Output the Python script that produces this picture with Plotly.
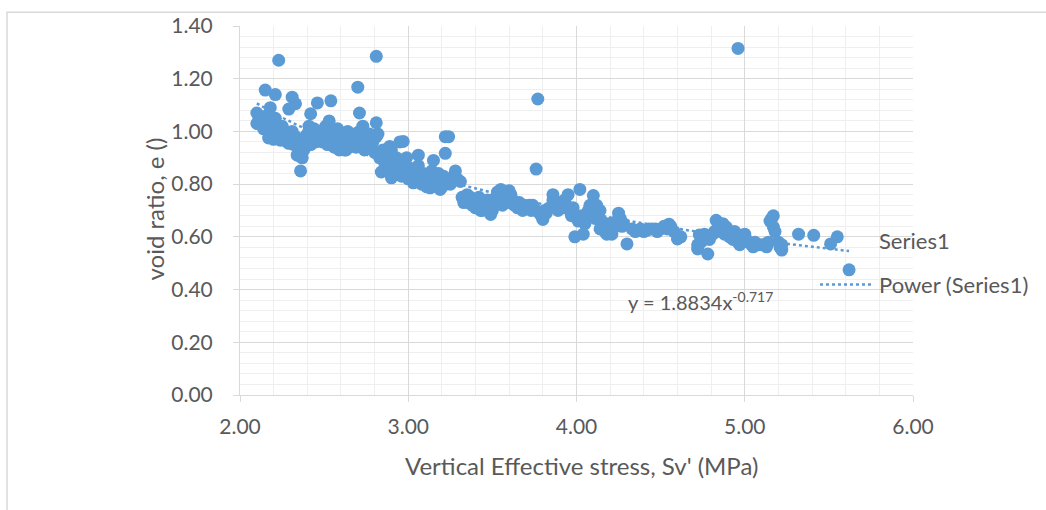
import plotly.graph_objects as go
import numpy as np

# Vertical effective stress (MPa)
sv = [
    2.23, 2.81, 4.96, 3.77, 3.76, 2.70, 2.54, 2.15, 2.21, 2.31, 2.33, 2.29, 2.46, 2.71, 2.81, 2.82,
    2.10, 2.12, 2.18, 2.42, 2.36, 2.36, 2.84, 2.90, 2.89, 2.95, 2.59, 2.63,
    2.10, 2.17, 2.24, 2.29, 2.35, 2.49, 2.84, 2.97, 3.06, 3.15, 3.22, 3.22, 3.03, 3.13, 3.19,
    3.24, 3.28, 3.31, 3.33, 3.43, 3.49, 3.55, 3.60, 3.64, 3.72, 3.80, 3.86, 3.95, 4.02, 4.10,
    3.99, 4.04, 4.14, 4.18, 4.25, 4.30, 4.22,
    4.42, 4.47, 4.55, 4.60, 4.72, 4.78, 4.73, 4.83, 4.89, 4.98, 5.05, 5.13, 5.17, 5.17, 5.22,
    5.32, 5.41, 5.51, 5.55, 5.62, 4.14, 4.17,
    2.11, 2.13, 2.14, 2.15, 2.16, 2.17, 2.18, 2.19, 2.20, 2.20, 2.21, 2.22, 2.23, 2.24, 2.25,
    2.26, 2.27, 2.28, 2.29, 2.30, 2.31, 2.32, 2.33, 2.34, 2.35, 2.36, 2.37, 2.38, 2.39, 2.40,
    2.41, 2.42, 2.43, 2.44, 2.45, 2.46, 2.47, 2.48, 2.49, 2.50, 2.51, 2.52, 2.53, 2.54, 2.55,
    2.56, 2.57, 2.58, 2.59, 2.60, 2.61, 2.62, 2.63, 2.64, 2.65, 2.66, 2.67, 2.68, 2.69, 2.70,
    2.71, 2.72, 2.73, 2.74, 2.75, 2.76, 2.77, 2.78, 2.79, 2.80, 2.81, 2.83, 2.85, 2.86, 2.87,
    2.88, 2.89, 2.90, 2.91, 2.92, 2.93, 2.94, 2.95, 2.96, 2.97, 2.98, 2.99, 3.00, 3.01, 3.02,
    3.03, 3.04, 3.05, 3.06, 3.07, 3.08, 3.09, 3.10, 3.11, 3.12, 3.13, 3.14, 3.15, 3.16, 3.17,
    3.18, 3.19, 3.20, 3.21, 3.22, 3.23, 3.25, 3.27, 3.29,
    3.32, 3.33, 3.34, 3.35, 3.36, 3.37, 3.38, 3.39, 3.40, 3.41, 3.42, 3.43, 3.44, 3.45, 3.46,
    3.47, 3.48, 3.50, 3.51, 3.52, 3.53, 3.54, 3.56, 3.57, 3.58, 3.59, 3.61, 3.62, 3.63, 3.65,
    3.66, 3.68, 3.69, 3.71, 3.73, 3.74, 3.76, 3.78, 3.79, 3.81, 3.82, 3.84, 3.86, 3.87, 3.89,
    3.90, 3.92, 3.93, 3.94, 3.96, 3.97, 3.98, 4.01, 4.03, 4.05, 4.06, 4.07, 4.08, 4.09, 4.11,
    4.12, 4.13, 4.15, 4.16, 4.17, 4.19, 4.20, 4.21, 4.23, 4.24, 4.26, 4.27, 4.28, 4.33, 4.35,
    4.38, 4.40, 4.43, 4.45, 4.48, 4.50, 4.52, 4.54, 4.56, 4.58, 4.62, 4.72, 4.74, 4.75, 4.76,
    4.79, 4.81, 4.82, 4.84, 4.86, 4.87, 4.88, 4.90, 4.91, 4.92, 4.93, 4.94, 4.95, 4.96, 4.97,
    4.99, 5.00, 5.01, 5.02, 5.04, 5.06, 5.08, 5.10, 5.12, 5.14, 5.15, 5.16, 5.18, 5.20, 5.21,
    5.22,
]

# Void ratio e
void_ratio = [
    1.27, 1.285, 1.315, 1.123, 0.857, 1.168, 1.116, 1.157, 1.14, 1.13, 1.105, 1.085, 1.108, 1.07, 1.033, 0.99,
    1.07, 1.03, 1.09, 1.067, 0.905, 0.85, 0.846, 0.824, 0.943, 0.96, 0.93, 0.93,
    1.03, 0.975, 0.967, 0.955, 0.917, 0.962, 0.906, 0.962, 0.91, 0.89, 0.98, 0.917, 0.805, 0.786, 0.78,
    0.98, 0.85, 0.81, 0.74, 0.70, 0.685, 0.78, 0.775, 0.73, 0.72, 0.666, 0.76, 0.76, 0.78, 0.757,
    0.60, 0.61, 0.63, 0.61, 0.69, 0.573, 0.645,
    0.625, 0.63, 0.648, 0.592, 0.554, 0.535, 0.607, 0.663, 0.637, 0.606, 0.562, 0.562, 0.68, 0.637, 0.55,
    0.61, 0.606, 0.573, 0.60, 0.475, 0.70, 0.645,
    1.04, 1.05, 1.01, 1.03, 1.06, 1.00, 0.98, 1.04, 1.02, 0.97, 1.05, 0.99, 1.01, 0.97, 1.02,
    0.98, 1.00, 0.96, 0.99, 0.97, 1.00, 0.95, 0.98, 0.91, 0.94, 0.97, 0.90, 0.93, 0.96, 0.99,
    1.02, 0.95, 0.98, 1.01, 0.96, 0.99, 0.97, 1.00, 0.96, 0.98, 1.02, 0.95, 1.04, 0.97, 1.00,
    0.94, 0.98, 1.01, 0.95, 0.97, 0.99, 0.93, 0.96, 1.00, 0.94, 0.97, 0.95, 0.99, 0.94, 0.96,
    1.00, 0.95, 1.02, 0.93, 0.97, 0.95, 0.99, 0.94, 0.96, 0.92, 0.98, 0.90, 0.93, 0.88, 0.91,
    0.86, 0.89, 0.93, 0.87, 0.84, 0.90, 0.86, 0.88, 0.83, 0.87, 0.85, 0.90, 0.82, 0.86, 0.84,
    0.81, 0.85, 0.83, 0.87, 0.82, 0.80, 0.84, 0.82, 0.79, 0.83, 0.81, 0.85, 0.80, 0.82, 0.79,
    0.84, 0.81, 0.79, 0.83, 0.80, 0.82, 0.80, 0.83, 0.82,
    0.75, 0.73, 0.74, 0.76, 0.73, 0.75, 0.72, 0.74, 0.71, 0.73, 0.75, 0.72, 0.70, 0.73, 0.71,
    0.74, 0.72, 0.70, 0.73, 0.75, 0.77, 0.74, 0.72, 0.76, 0.74, 0.73, 0.76, 0.74, 0.72, 0.71,
    0.73, 0.70, 0.72, 0.71, 0.70, 0.72, 0.70, 0.69, 0.68, 0.70, 0.69, 0.71, 0.74, 0.72, 0.70,
    0.73, 0.71, 0.74, 0.72, 0.70, 0.68, 0.71, 0.66, 0.68, 0.65, 0.67, 0.70, 0.72, 0.69, 0.67,
    0.72, 0.70, 0.66, 0.64, 0.62, 0.65, 0.63, 0.61, 0.64, 0.66, 0.67, 0.64, 0.65, 0.63, 0.62,
    0.63, 0.62, 0.63, 0.63, 0.62, 0.63, 0.64, 0.63, 0.64, 0.62, 0.60, 0.57, 0.58, 0.60, 0.61,
    0.59, 0.61, 0.62, 0.63, 0.62, 0.65, 0.61, 0.62, 0.60, 0.61, 0.59, 0.62, 0.60, 0.58, 0.57,
    0.60, 0.61, 0.59, 0.58, 0.57, 0.58, 0.57, 0.57, 0.57, 0.58, 0.66, 0.67, 0.62, 0.58, 0.56,
    0.57,
]

# Power trendline reported on the chart: y = 1.8834 x^-0.717
trend_a = 1.8834
trend_b = -0.717

x_ticks = [2.0, 3.0, 4.0, 5.0, 6.0]
y_ticks = [0.0, 0.2, 0.4, 0.6, 0.8, 1.0, 1.2, 1.4]

BLUE = "#5b9bd5"
TXT = "#595959"
FONT = "Lato"

fig = go.Figure()

fig.add_trace(go.Scatter(
    x=sv, y=void_ratio, mode="markers",
    marker=dict(color=BLUE, size=13, line=dict(width=0)),
    name="Series1", showlegend=False,
))

tx = np.linspace(min(sv), max(sv), 200)
ty = trend_a * tx ** trend_b
fig.add_trace(go.Scatter(
    x=tx, y=ty, mode="lines",
    line=dict(color=BLUE, width=2.5, dash="dot"),
    name="Power (Series1)", showlegend=False,
))

W, H = 1046, 510
L, R, T, B = 240, 1046 - 913, 21, 510 - 395
pw, ph = W - L - R, H - T - B

def px(x):
    return (x - L) / pw

def py(y):
    return (H - B - y) / ph

fig.update_layout(
    width=W, height=H,
    margin=dict(l=L, r=R, t=T, b=B),
    paper_bgcolor="white", plot_bgcolor="white",
    font=dict(family=FONT, color=TXT, size=21),
    showlegend=False,
    xaxis=dict(
        range=[2, 6], tickvals=x_ticks, ticktext=[f"{v:.2f}" for v in x_ticks],
        showgrid=True, gridcolor="#d9d9d9", gridwidth=1,
        minor=dict(dtick=0.2, showgrid=True, gridcolor="#efefef", gridwidth=1),
        showline=True, linecolor="#d9d9d9", linewidth=1,
        ticks="outside", ticklen=6, tickcolor="#d9d9d9",
        zeroline=False, ticklabelstandoff=7,
        tickfont=dict(size=21, color=TXT, family=FONT),
    ),
    yaxis=dict(
        range=[0, 1.4], tickvals=y_ticks, ticktext=[f"{v:.2f}" for v in y_ticks],
        showgrid=True, gridcolor="#d9d9d9", gridwidth=1,
        minor=dict(dtick=0.04, showgrid=True, gridcolor="#efefef", gridwidth=1),
        showline=True, linecolor="#d9d9d9", linewidth=1,
        ticks="outside", ticklen=6, tickcolor="#d9d9d9",
        zeroline=False, ticklabelstandoff=16,
        tickfont=dict(size=21, color=TXT, family=FONT),
    ),
    shapes=[
        dict(type="rect", xref="paper", yref="paper",
             x0=px(7), x1=px(1060), y0=py(7), y1=py(530),
             line=dict(color="#d9d9d9", width=1.5), fillcolor="rgba(0,0,0,0)", layer="below"),
        dict(type="line", xref="paper", yref="paper",
             x0=px(820), x1=px(872), y0=py(283), y1=py(283),
             line=dict(color=BLUE, width=2.5, dash="dot")),
    ],
    annotations=[
        dict(text="Vertical Effective stress, Sv' (MPa)", xref="paper", yref="paper",
             x=px(581), y=py(466), showarrow=False, xanchor="center", yanchor="middle",
             font=dict(size=24, color=TXT, family=FONT)),
        dict(text="void ratio, e ()", xref="paper", yref="paper",
             x=px(155), y=py(207), showarrow=False, textangle=-90,
             xanchor="center", yanchor="middle",
             font=dict(size=24, color=TXT, family=FONT)),
        dict(text="y = 1.8834x<sup>-0.717</sup>", xref="paper", yref="paper",
             x=px(626), y=py(300), showarrow=False, xanchor="left", yanchor="middle",
             font=dict(size=20, color=TXT, family=FONT)),
        dict(text="Series1", xref="paper", yref="paper",
             x=px(877), y=py(238), showarrow=False, xanchor="left", yanchor="middle",
             font=dict(size=22, color=TXT, family=FONT)),
        dict(text="Power (Series1)", xref="paper", yref="paper",
             x=px(877), y=py(283), showarrow=False, xanchor="left", yanchor="middle",
             font=dict(size=22, color=TXT, family=FONT)),
    ],
)

fig.write_html("out.html")
